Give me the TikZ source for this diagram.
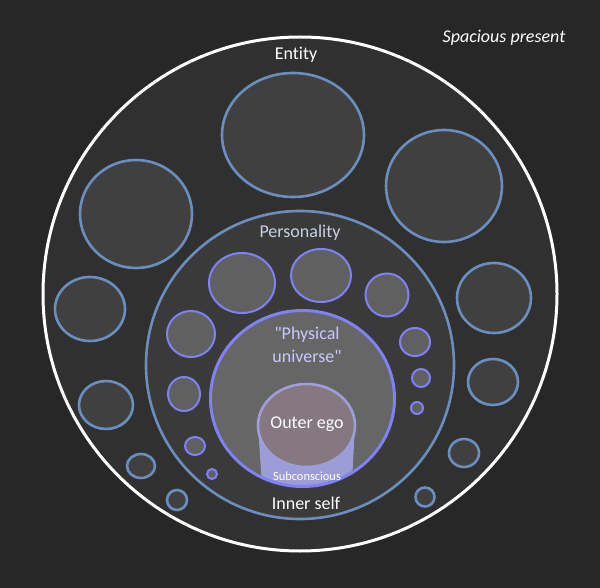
\documentclass[tikz,border=0pt]{standalone}
\usepackage{fontspec}
\setmainfont{Carlito}[Ligatures={TeXOff,NoCommon}]
\usetikzlibrary{positioning}
\definecolor{bgdark}{HTML}{272727}
\definecolor{entfill}{HTML}{303030}
\definecolor{entline}{HTML}{6C8EBF}
\definecolor{smallfill}{HTML}{404040}
\definecolor{persfill}{HTML}{3A3A3A}
\definecolor{selfline}{HTML}{8080F8}
\definecolor{selffill}{HTML}{606060}
\definecolor{univfill}{HTML}{666666}
\definecolor{egofill}{HTML}{857880}
\definecolor{egoline}{HTML}{9E9ED8}
\definecolor{subcfill}{HTML}{9C9CD6}
\definecolor{perstext}{HTML}{C8D2E2}
\definecolor{univtext}{HTML}{C8C8FF}
\begin{document}
\begin{tikzpicture}
          [x=1pt, y=-1pt,
           lbl/.style={font=\fontsize{18}{23}\selectfont, text=white, inner sep=0pt, align=center},
           entcirc/.style={draw=entline, line width=2.6pt, fill=smallfill},
           perscirc/.style={draw=selfline, line width=2pt, fill=selffill}]
  \fill[bgdark] (0,0) rectangle (600,588);
  \useasboundingbox (0,0) rectangle (600,588);
  \draw[white, line width=3pt, fill=entfill] (300,294) circle [radius=257pt];
  \foreach \x/\y/\rx/\ry in {293/135/71/62, 444/186/58/56, 136/214/56/54, 90/309/35/32,
      494/298/37/35, 106/405/27/24, 493/382/25/23, 141/466/14/12, 177/500/10/10,
      464/453/15/14, 425/497/9.5/9.5}
    \draw[entcirc] (\x,\y) ellipse [x radius=\rx pt, y radius=\ry pt];
  \draw[entline, line width=2.6pt, fill=persfill] (300,365) circle [radius=154pt];
  \foreach \x/\y/\rx/\ry in {242/283/33/30, 321/275.5/30/26.5, 387/295/21.5/21.5,
      191/334/24/23, 415/342/15/14, 184/394/16/17, 421/378/9/9, 195/446/10/9,
      417/408/6/6, 212/474/5/5}
    \draw[perscirc] (\x,\y) ellipse [x radius=\rx pt, y radius=\ry pt];
  \fill[univfill] (302.5,398.5) ellipse [x radius=92pt, y radius=88pt];
  \begin{scope}
    \clip (302.5,398.5) ellipse [x radius=92pt, y radius=88pt];
    \fill[subcfill] (258,426) -- (263,500) -- (351,500) -- (355,426) -- cycle;
  \end{scope}
  \draw[egoline, line width=2.6pt, fill=egofill] (306.5,425.5) ellipse [x radius=48.5pt, y radius=41.5pt];
  \draw[selfline, line width=3pt] (302.5,398.5) ellipse [x radius=92pt, y radius=88pt];

  \node (Spacious) [lbl, font=\fontsize{18}{22}\selectfont\itshape] at (504,38) {Spacious present};
  \node (Entity) [lbl] at (296,55) {Entity};
  \node (Personality) [lbl, text=perstext] at (300,233) {Personality};
  \node (Universe) [lbl, text=univtext] at (307,345) {"Physical\\ universe"};
  \node (Ego) [lbl] at (307,424) {Outer ego};
  \node (Subconscious) [lbl, font=\fontsize{12.4}{14}\selectfont] at (307,476) {Subconscious};
  \node (Inner) [lbl] at (306,503) {Inner self};
\end{tikzpicture}
\end{document}
